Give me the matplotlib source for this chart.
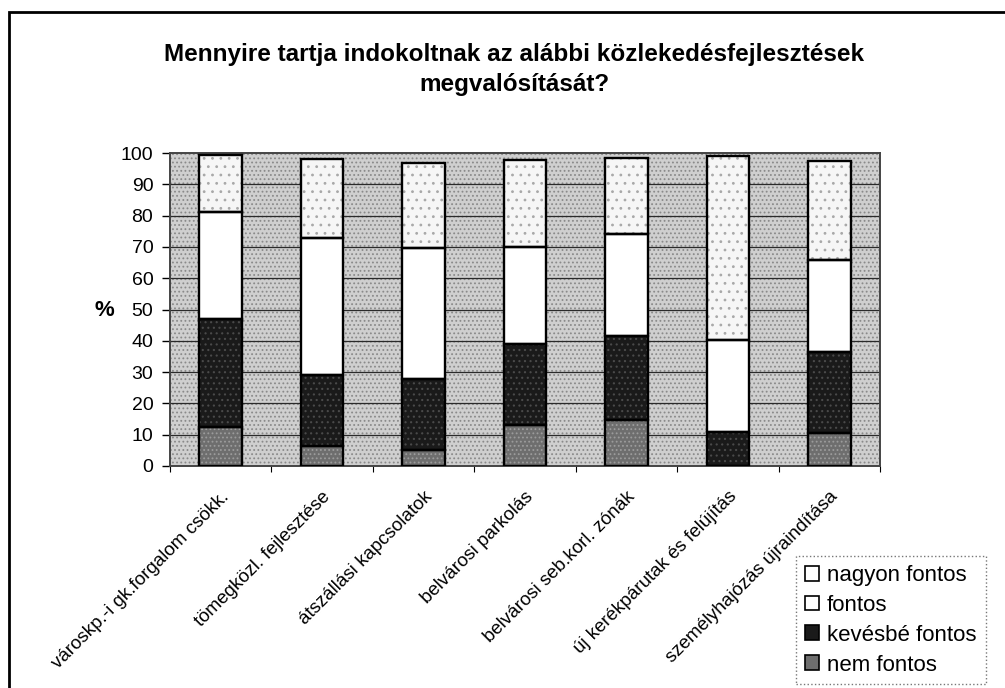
import matplotlib.pyplot as plt
from matplotlib.patches import Patch, Rectangle

plt.rcParams['font.family'] = ['Liberation Sans', 'DejaVu Sans']
plt.rcParams['hatch.linewidth'] = 0.8

categories = ['városkp.-i gk.forgalom csökk.', 'tömegközl. fejlesztése',
              'átszállási kapcsolatok', 'belvárosi parkolás',
              'belvárosi seb.korl. zónák', 'új kerékpárutak és felújítás',
              'személyhajózás újraindítása']
nem_fontos = [12.5, 6.3, 5.0, 13.2, 14.8, 0.0, 10.6]
kevesbe_fontos = [34.5, 22.9, 22.9, 25.9, 26.8, 10.9, 25.7]
fontos = [34.0, 43.7, 41.6, 30.9, 32.5, 29.2, 29.5]
nagyon_fontos = [18.5, 25.3, 27.3, 27.9, 24.3, 59.0, 31.8]
yticks = [0, 10, 20, 30, 40, 50, 60, 70, 80, 90, 100]

# name, values, fill colour, hatch, hatch colour
series = [
    ('nem fontos', nem_fontos, '#6e6e6e', '....', '#9c9c9c'),
    ('kevésbé fontos', kevesbe_fontos, '#1a1a1a', '...', '#4a4a4a'),
    ('fontos', fontos, 'white', None, 'white'),
    ('nagyon fontos', nagyon_fontos, '#f6f6f6', '..', '#a8a8a8'),
]

fig = plt.figure(figsize=(10.05, 6.88), dpi=100)
ax = fig.add_axes([170/1005, 1-466/688, 710/1005, 313/688])

# stippled grey plot area
ax.add_patch(Rectangle((0, 0), 1, 1, transform=ax.transAxes, facecolor='#cfcfcf',
                       edgecolor='#8a8a8a', hatch='....', lw=0, zorder=0))

x = list(range(len(categories)))
bottom = [0.0] * len(categories)
handles = []
for name, vals, col, hat, hcol in series:
    ax.bar(x, vals, width=0.42, bottom=bottom, facecolor=col, edgecolor=hcol,
           linewidth=0, hatch=hat, zorder=3)
    ax.bar(x, vals, width=0.42, bottom=bottom, fill=False, edgecolor='black',
           linewidth=1.7, zorder=4)
    bottom = [b + v for b, v in zip(bottom, vals)]
    handles.append(Patch(facecolor=col if col != '#f6f6f6' else 'white',
                         edgecolor='black', linewidth=1.2, label=name))

ax.set_xlim(-0.5, len(categories) - 0.5)
ax.set_ylim(0, 100)
ax.set_yticks(yticks)
ax.tick_params(axis='y', labelsize=14, length=6, width=1, pad=6)
for y in yticks[1:-1]:
    ax.axhline(y, color='#2a2a2a', lw=0.9, zorder=1)

ax.set_xticks(x)
ax.set_xticklabels(categories, rotation=45, ha='right', va='top',
                   rotation_mode='anchor', fontsize=13.5)
ax.tick_params(axis='x', length=0, pad=16)
ax.set_xticks([i + 0.5 for i in range(-1, len(categories))], minor=True)
ax.tick_params(axis='x', which='minor', length=4, width=0.8)

for s in ax.spines.values():
    s.set_color('#444444')
    s.set_linewidth(1.4)

fig.text(104/1005, 1-310/688, '%', fontsize=16, fontweight='bold', ha='center', va='center')
fig.text(514/1005, 1-54/688, 'Mennyire tartja indokoltnak az alábbi közlekedésfejlesztések',
         fontsize=17.5, fontweight='bold', ha='center', va='center')
fig.text(514/1005, 1-85/688, 'megvalósítását?',
         fontsize=17.5, fontweight='bold', ha='center', va='center')

leg = fig.legend(handles[::-1], [h.get_label() for h in handles[::-1]],
                 loc='upper left', bbox_to_anchor=(796/1005, 1-556/688),
                 fontsize=16, frameon=True, fancybox=False, edgecolor='#555555',
                 handlelength=0.65, handleheight=0.65, handletextpad=0.35,
                 labelspacing=0.4, borderpad=0.4, borderaxespad=0)
leg.get_frame().set_linestyle(':')
leg.get_frame().set_linewidth(1.0)

# chart area border (cropped at right and bottom)
fig.patches.append(Rectangle((9/1005, -0.1), 1.2, 1.1 - 12/688, transform=fig.transFigure,
                             fill=False, edgecolor='black', linewidth=2))

fig.savefig('out.png', dpi=100)
